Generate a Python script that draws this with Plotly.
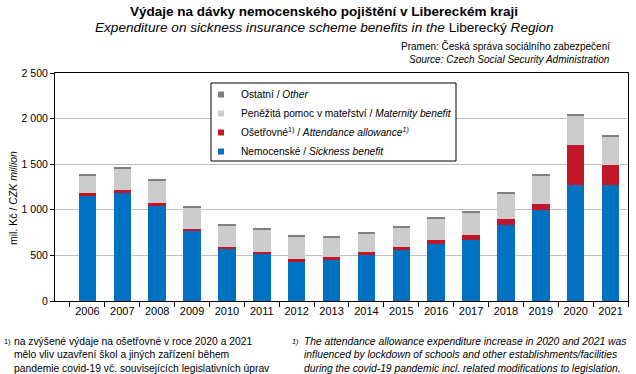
import plotly.graph_objects as go

years = [str(y) for y in range(2006, 2022)]
sickness = [1155, 1184, 1045, 763, 565, 513, 429, 451, 502, 561, 627, 671, 832, 997, 1272, 1272]
attendance = [29, 33, 29, 25, 25, 22, 29, 29, 33, 29, 40, 55, 66, 66, 440, 220]
maternity = [187, 231, 242, 242, 242, 253, 249, 220, 209, 220, 242, 249, 286, 308, 319, 315]
other = [11, 11, 11, 11, 11, 11, 11, 11, 11, 11, 11, 11, 11, 11, 11, 11]

y_ticks = [0, 500, 1000, 1500, 2000, 2500]
y_tick_labels = ["0", "500", "1 000", "1 500", "2 000", "2 500"]

names = [
    "Nemocenské / <i>Sickness benefit</i>",
    "Ošetřovné<sup>1)</sup> / <i>Attendance allowance<sup>1)</sup></i>",
    "Peněžitá pomoc v mateřství / <i>Maternity benefit</i>",
    "Ostatní / <i>Other</i>",
]
colors = ["#0070c0", "#c0182a", "#cccccc", "#7f7f7f"]
series = [sickness, attendance, maternity, other]

FONT = "Liberation Sans, Arial, sans-serif"
W, H = 636, 374
L, R, T, B = 55, 8, 73, 73
PW, PH = W - L - R, H - T - B


def px_x(x):
    return (x - L) / PW


def px_y(y):
    return (H - B - y) / PH


fig = go.Figure()
for nm, col, vals in zip(names, colors, series):
    fig.add_bar(x=years, y=vals, name=nm, marker_color=col, marker_line_width=0,
                showlegend=False)
# legend entries with small square symbols
for nm, col in zip(names, colors):
    fig.add_scatter(x=[years[0]], y=[None], mode="markers", name=nm,
                    marker=dict(symbol="square", size=6, color=col), showlegend=True)

fig.update_layout(
    width=W, height=H,
    margin=dict(l=L, r=R, t=T, b=B, autoexpand=False),
    barmode="stack", bargap=0.5,
    paper_bgcolor="white", plot_bgcolor="white",
    font=dict(family=FONT, size=10.5, color="black"),
    showlegend=True,
    legend=dict(
        x=px_x(201), y=px_y(80), xanchor="left", yanchor="top",
        traceorder="reversed", bgcolor="rgba(0,0,0,0)",
        borderwidth=0, font=dict(size=10.2), itemwidth=30, tracegroupgap=0,
    ),
    xaxis=dict(
        type="category", showline=True, linecolor="black", linewidth=1, mirror=True,
        ticks="outside", tickson="boundaries", ticklen=5, tickcolor="black",
        tickfont=dict(size=11), showgrid=False,
    ),
    yaxis=dict(
        range=[0, 2500], tickvals=y_ticks, ticktext=y_tick_labels,
        showline=True, linecolor="black", linewidth=1, mirror=True,
        ticks="outside", ticklen=4, tickcolor="black",
        showgrid=True, gridcolor="#bfbfbf", gridwidth=1,
        tickfont=dict(size=10.5), zeroline=False,
    ),
)

# legend frame
fig.add_shape(type="rect", xref="paper", yref="paper",
              x0=px_x(211), x1=px_x(456), y0=px_y(161), y1=px_y(83),
              line=dict(color="black", width=1), fillcolor="white", layer="above")

ann = [
    dict(text="<b>Výdaje na dávky nemocenského pojištění v Libereckém kraji</b>",
         x=324, y=11, size=13.5, xanchor="center"),
    dict(text="<i>Expenditure on sickness insurance scheme benefits in the </i>Liberecký<i> Region</i>",
         x=324, y=27, size=13.6, xanchor="center"),
    dict(text="Pramen: Česká správa sociálního zabezpečení",
         x=612, y=46, size=10, xanchor="right"),
    dict(text="<i>Source: Czech Social Security Administration</i>",
         x=612, y=60, size=10, xanchor="right"),
    dict(text="mil. Kč / <i>CZK million</i>", x=13, y=198, size=10.5,
         xanchor="center", textangle=-90),
    dict(text="<sup>1)</sup>", x=2, y=341, size=10.3, xanchor="left"),
    dict(text="na zvýšené výdaje na ošetřovné v roce 2020 a 2021<br>mělo vliv uzavření škol a jiných zařízení během<br>pandemie covid-19 vč. souvisejících legislativních úprav",
         x=12, y=355, size=10.3, xanchor="left"),
    dict(text="<i><sup>1)</sup></i>", x=290, y=341, size=10.3, xanchor="left"),
    dict(text="<i>The attendance allowance expenditure increase in 2020 and 2021 was<br>influenced by lockdown of schools and other establishments/facilities<br>during the covid-19 pandemic incl. related modifications to legislation.</i>",
         x=302, y=355, size=10.3, xanchor="left"),
]
for a in ann:
    fig.add_annotation(text=a["text"], x=px_x(a["x"]), y=px_y(a["y"]),
                       xref="paper", yref="paper",
                       xanchor=a["xanchor"], yanchor="middle", showarrow=False,
                       font=dict(family=FONT, color="black", size=a["size"]),
                       align="left", textangle=a.get("textangle", 0))

fig.write_html("out.html", config={"displayModeBar": False},
               post_script="document.body.style.margin='0px';")
